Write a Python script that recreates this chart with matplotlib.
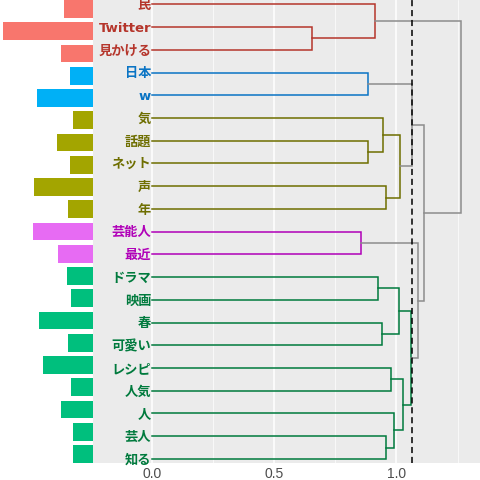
import matplotlib
matplotlib.use("Agg")
import matplotlib.pyplot as plt

plt.rcParams['font.family'] = ['Liberation Sans', 'Noto Sans CJK JP', 'DejaVu Sans']

# leaves, top to bottom
words = ['民', 'Twitter', '見かける', '日本', 'w', '気', '話題', 'ネット', '声', '年',
         '芸能人', '最近', 'ドラマ', '映画', '春', '可愛い', 'レシピ', '人気', '人', '芸人', '知る']
freq = [29, 90, 32, 23, 56, 20, 36, 23, 59, 25,
        60, 35, 26, 22, 54, 25, 50, 22, 32, 20, 20]
cluster = [0, 0, 0, 1, 1, 2, 2, 2, 2, 2,
           3, 3, 4, 4, 4, 4, 4, 4, 4, 4, 4]

# merges: (name, left, right, height); ints are leaf indices
merges = [
    ('A', 1, 2, 0.653), ('B', 0, 'A', 0.914),
    ('C', 3, 4, 0.885),
    ('D', 6, 7, 0.885), ('E', 5, 'D', 0.946), ('F', 8, 9, 0.959), ('G', 'E', 'F', 1.016),
    ('H', 'C', 'G', 1.065),
    ('I', 10, 11, 0.853),
    ('J', 12, 13, 0.926), ('K', 14, 15, 0.940), ('L', 'J', 'K', 1.012),
    ('M', 16, 17, 0.977), ('N', 19, 20, 0.959), ('O', 18, 'N', 0.992),
    ('P', 'M', 'O', 1.026), ('Q', 'L', 'P', 1.058),
    ('R', 'I', 'Q', 1.087), ('S', 'H', 'R', 1.114), ('T', 'B', 'S', 1.265),
]
cut = 1.063

bar_cols = ['#F8766D', '#00B0F6', '#A3A500', '#E76BF3', '#00BF7D']
line_cols = ['#B5352B', '#0A74C4', '#6E6E00', '#B000B8', '#007A3D']
gray = '#8C8C8C'

n = len(words)
ypos = [n - i for i in range(n)]

fig = plt.figure(figsize=(4.8, 4.8), dpi=100)
bot = 17 / 480
axb = fig.add_axes([0, bot, 93 / 480, 1 - bot])
axd = fig.add_axes([93 / 480, bot, 1 - 93 / 480, 1 - bot])

# frequency bars
axb.barh(ypos, freq, height=0.8, color=[bar_cols[c] for c in cluster])
axb.set_xlim(93, 0)
axb.set_ylim(0.6, n + 0.4)
axb.axis('off')

# dendrogram
axd.set_facecolor('#EBEBEB')
for s in axd.spines.values():
    s.set_visible(False)
axd.set_xlim(-0.242, 1.342)
axd.set_ylim(0.82, n + 0.19)
axd.set_xticks([0.0, 0.5, 1.0])
axd.set_xticklabels(['0.0', '0.5', '1.0'])
axd.set_xticks([0.25, 0.75, 1.25], minor=True)
axd.grid(True, axis='x', which='major', color='white', lw=1.1)
axd.grid(True, axis='x', which='minor', color='white', lw=0.5)
axd.set_axisbelow(True)
axd.tick_params(axis='x', which='both', length=0, labelsize=10, colors='#4D4D4D', pad=3)
axd.set_yticks([])

pos = {i: (ypos[i], 0.0) for i in range(n)}
members = {i: {cluster[i]} for i in range(n)}
for name, l, r, h in merges:
    yl, hl = pos[l]
    yr, hr = pos[r]
    mem = members[l] | members[r]
    members[name] = mem
    col = line_cols[list(mem)[0]] if (h < cut and len(mem) == 1) else gray
    axd.plot([hl, h, h, hr], [yl, yl, yr, yr], color=col, lw=1.1, solid_joinstyle='miter')
    pos[name] = ((yl + yr) / 2, h)

axd.axvline(cut, color='black', lw=1.1, ls=(0, (4, 2.5)))

for i, w in enumerate(words):
    axd.text(-0.004, ypos[i] - 0.05, w, ha='right', va='center', fontsize=9.5,
             fontweight='bold', color=line_cols[cluster[i]],
             family=['DejaVu Sans', 'Noto Sans CJK JP'])

fig.savefig('out.png', dpi=100)
